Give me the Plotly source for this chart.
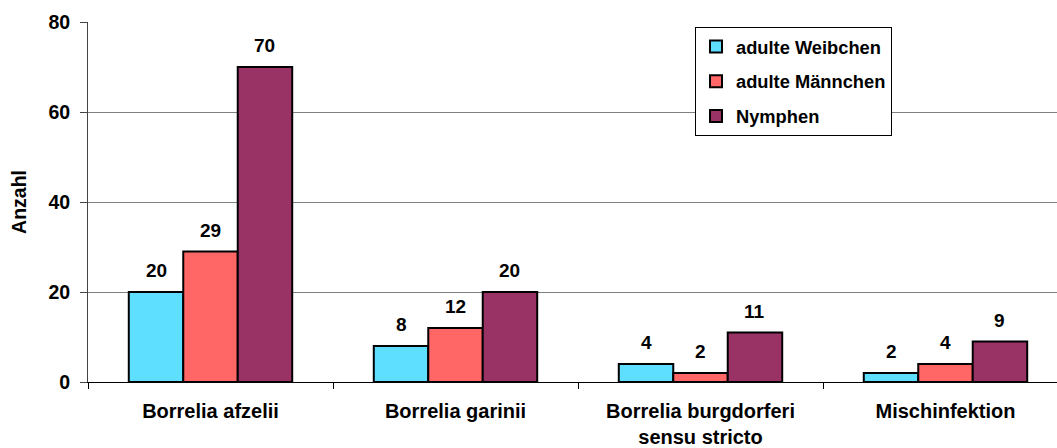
import plotly.graph_objects as go

# Borrelia species found in ticks, by tick stage
categories = ["Borrelia afzelii", "Borrelia garinii",
              "Borrelia burgdorferi<br>sensu stricto", "Mischinfektion"]
series_names = ["adulte Weibchen", "adulte Männchen", "Nymphen"]
weibchen = [20, 8, 4, 2]
maennchen = [29, 12, 2, 4]
nymphen = [70, 20, 11, 9]
y_ticks = [0, 20, 40, 60, 80]

series_values = [weibchen, maennchen, nymphen]
colors = ["#5FDFFF", "#FF6666", "#993366"]

FONT = "Liberation Sans, Arial, sans-serif"
W, H = 1057, 448
ML, MR, MT, MB = 88, 0, 22, 66
CAT_PX = 245          # pixel width of one category slot
BARGAP = 0.333
plot_w = W - ML - MR

fig = go.Figure()
for name, vals, col in zip(series_names, series_values, colors):
    fig.add_trace(go.Bar(
        x=categories, y=vals, name=name,
        marker=dict(color=col, line=dict(color="#000000", width=2)),
        legendgroup=name,
    ))

# value labels above each bar
bar_w = (1 - BARGAP) / len(series_values)
for j, vals in enumerate(series_values):
    for i, v in enumerate(vals):
        fig.add_annotation(
            x=i + (j - 1) * bar_w, y=v, xref="x", yref="y",
            text=str(v), showarrow=False, yanchor="bottom", yshift=9,
            font=dict(family=FONT, size=19, color="#000000", weight="bold"),
        )

fig.update_layout(
    width=W, height=H,
    margin=dict(l=ML, r=MR, t=MT, b=MB, pad=0),
    paper_bgcolor="#FFFFFF", plot_bgcolor="#FFFFFF",
    font=dict(family=FONT, size=18, color="#000000", weight="bold"),
    barmode="group", bargap=BARGAP, bargroupgap=0,
    legend=dict(
        x=(695 - ML) / plot_w, y=1 - (27 - MT) / (H - MT - MB),
        xanchor="left", yanchor="top",
        bordercolor="#000000", borderwidth=1, bgcolor="#FFFFFF",
        font=dict(family=FONT, size=18.3, color="#000000", weight="bold"),
        itemwidth=30, traceorder="grouped", tracegroupgap=8,
    ),
    showlegend=True,
)

fig.update_xaxes(
    range=[-0.5, -0.5 + plot_w / CAT_PX],
    tickson="boundaries", ticks="outside", ticklen=6, tickcolor="#000000",
    tickwidth=1, showline=True, linecolor="#000000", linewidth=1,
    showgrid=False, ticklabelstandoff=11,
    tickfont=dict(family=FONT, size=20, color="#000000", weight="bold"),
)
fig.update_yaxes(
    range=[0, 80], tickvals=y_ticks, ticks="outside", ticklen=7,
    tickcolor="#444444", showline=True, linecolor="#444444", linewidth=1,
    showgrid=True, gridcolor="#808080", gridwidth=1,
    zeroline=False, ticklabelstandoff=6,
    tickfont=dict(family=FONT, size=19.5, color="#000000", weight="bold"),
    title=dict(text="Anzahl", standoff=16,
               font=dict(family=FONT, size=19.5, color="#000000", weight="bold")),
)

fig.write_html("out.html")
